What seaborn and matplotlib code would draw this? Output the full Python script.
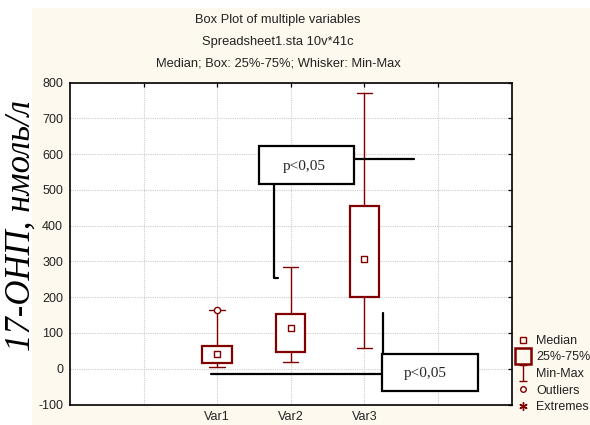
import matplotlib
matplotlib.use("Agg")
import matplotlib.pyplot as plt
from matplotlib.patches import Rectangle
from matplotlib.lines import Line2D
from matplotlib.path import Path
import pandas as pd
import seaborn as sns

# Summary statistics per variable
variables = ["Var1", "Var2", "Var3"]
minimum = [5, 19, 57]
q1 = [15, 48, 202]
median = [41, 113, 307]
q3 = [64, 153, 456]
maximum = [164, 285, 770]
outliers = [[164], [], []]

y_ticks = list(range(-100, 801, 100))
x_slots = ["", "Var1", "Var2", "Var3", ""]

title_lines = ["Box Plot of multiple variables",
               "Spreadsheet1.sta 10v*41c",
               "Median; Box: 25%-75%; Whisker: Min-Max"]
y_label = "17-ОНП, нмоль/л"
p_text = "p<0,05"

sns.set_theme(style="white")
plt.rcParams["font.family"] = ["Liberation Sans", "DejaVu Sans"]
plt.rcParams["axes.unicode_minus"] = False

RED = "#800000"
CREAM = "#FDF9EE"
W, H = 590, 425

fig = plt.figure(figsize=(W / 100, H / 100), dpi=100, facecolor="white")
fig.patches.append(Rectangle((32 / W, 0), 1 - 32 / W, 1 - 8 / H,
                             transform=fig.transFigure, facecolor=CREAM,
                             edgecolor="none", zorder=-10))

ax = fig.add_axes([70 / W, 1 - 404.5 / H, 441.5 / W, 321.8 / H])
ax.set_facecolor("white")

positions = [x_slots.index(v) + 1 for v in variables]
stats = [dict(label=v, whislo=lo, q1=a, med=m, q3=b, whishi=hi, fliers=f)
         for v, lo, a, m, b, hi, f in zip(variables, minimum, q1, median, q3,
                                          maximum, outliers)]
ax.bxp(stats, positions=positions, widths=0.4, capwidths=0.21,
       patch_artist=True, manage_ticks=False, showfliers=True,
       boxprops=dict(facecolor="white", edgecolor=RED, linewidth=1.6),
       whiskerprops=dict(color=RED, linewidth=1.0),
       capprops=dict(color=RED, linewidth=1.0),
       medianprops=dict(linewidth=0),
       flierprops=dict(marker="o", markerfacecolor="white",
                       markeredgecolor=RED, markersize=4.5,
                       markeredgewidth=1.0),
       zorder=3)

med_df = pd.DataFrame({"pos": positions, "median": median})
sns.scatterplot(data=med_df, x="pos", y="median", marker="s", s=18,
                facecolor="white", edgecolor=RED, linewidth=1.0,
                zorder=5, ax=ax, legend=False)

ax.set_xlim(0, 6)
ax.set_ylim(-100, 800)
ax.set_xticks(range(1, 6))
ax.set_xticklabels(x_slots)
ax.set_yticks(y_ticks)
ax.set_xlabel("")
ax.set_ylabel("")
ax.grid(True, color="#cccccc", linestyle=(0, (1, 1)), linewidth=0.8)
ax.set_axisbelow(True)
for s in ax.spines.values():
    s.set_color("black")
    s.set_linewidth(1.2)
ax.tick_params(direction="in", length=3, width=0.9, top=True, right=True,
               labelsize=9, labelcolor="#222222", pad=5, color="black")

# significance annotations
lw = 1.6
up_box = (2.57, 517, 3.86 - 2.57, 622 - 517)
ax.add_patch(Rectangle(up_box[:2], up_box[2], up_box[3], facecolor="white",
                       edgecolor="black", linewidth=lw, zorder=6))
ax.plot([3.86, 4.67], [587, 587], color="black", lw=lw, zorder=6)
ax.plot([2.77, 2.77, 2.82], [517, 253, 253], color="black", lw=lw, zorder=6)
ax.text(3.18, 566, p_text, ha="center", va="center", fontsize=11,
        family=["Liberation Serif", "DejaVu Serif"], zorder=7)

lo_box = (4.24, -62, 5.54 - 4.24, 41 + 62)
ax.add_patch(Rectangle(lo_box[:2], lo_box[2], lo_box[3], facecolor="white",
                       edgecolor="black", linewidth=lw, zorder=6))
ax.plot([4.25, 4.25], [41, 157], color="black", lw=lw, zorder=6)
ax.plot([1.91, 4.24], [-15, -15], color="black", lw=lw, zorder=6)
ax.text(4.83, -13, p_text, ha="center", va="center", fontsize=11,
        family=["Liberation Serif", "DejaVu Serif"], zorder=7)

# titles
for txt, y in zip(title_lines, [20, 42, 63]):
    fig.text(278 / W, 1 - y / H, txt, ha="center", va="center", fontsize=9.3,
             color="#222222")

fig.text(21 / W, 1 - 226 / H, y_label, rotation=90, ha="center", va="center",
         fontsize=25, style="italic",
         family=["Liberation Serif", "DejaVu Serif"], color="black")

# legend
ibeam = Path([(-0.5, 1), (0.5, 1), (0, 1), (0, -1), (-0.5, -1), (0.5, -1)],
             [Path.MOVETO, Path.LINETO, Path.MOVETO, Path.LINETO,
              Path.MOVETO, Path.LINETO])
handles = [
    Line2D([], [], ls="none", marker="s", ms=4.5, mfc="none", mec=RED, mew=1.0),
    Line2D([], [], ls="none", marker="s", ms=11, mfc="none", mec=RED, mew=1.8),
    Line2D([], [], ls="none", marker=ibeam, ms=12, mfc="none", mec=RED, mew=1.0),
    Line2D([], [], ls="none", marker="o", ms=4, mfc="none", mec=RED, mew=1.0),
    Line2D([], [], ls="none", marker=(6, 2, 0), ms=6, mfc="none", mec=RED, mew=1.0),
]
labels = ["Median", "25%-75%", "Min-Max", "Outliers", "Extremes"]
fig.legend(handles, labels, loc="upper left",
           bbox_to_anchor=(517 / W, 1 - 335 / H), frameon=False,
           fontsize=9, handlelength=1.0, handletextpad=0.55,
           labelspacing=0.36, borderpad=0, borderaxespad=0,
           labelcolor="#222222")

fig.savefig("out.png", dpi=100, facecolor="white")
